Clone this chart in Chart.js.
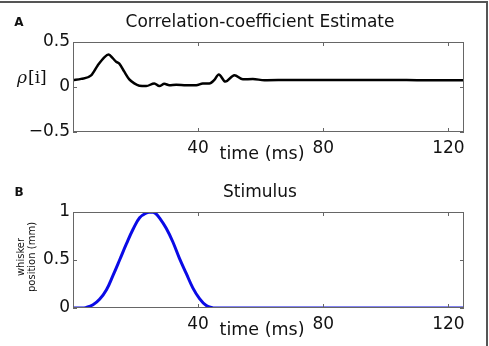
<!DOCTYPE html>
<html lang="en">
<head>
    <meta charset="UTF-8">
    <title>Correlation-coefficient Estimate / Stimulus</title>
    <style>
        body{
            margin: 0;
            width: 489px;
            height: 346px;
            background: #fff;
            overflow: hidden;
            position: relative;
        }
        .frame{
            position: absolute;
            left: -3px;
            top: 1px;
            width: 487px;
            height: 350px;
            border: 2px solid #555;
        }
        .panel{
            position: absolute;
            left: 0;
            width: 489px;
        }
        #panelA{ top: 0; height: 170px; }
        #panelB{ top: 170px; height: 176px; }
    </style>
</head>
<body>
    <div class="frame"></div>
    <div class="panel" id="panelA"><canvas id="chartA" width="489" height="170"></canvas></div>
    <div class="panel" id="panelB"><canvas id="chartB" width="489" height="176"></canvas></div>
    <script src="https://cdn.jsdelivr.net/npm/chart.js@4.4.1/dist/chart.umd.min.js"></script>
    <script>
// panel A: correlation coefficient estimate
const timeA = [0, 2.6, 5.8, 7.9, 10, 11.4, 12.7, 13.8, 14.8, 16.4, 18, 19.6, 21.2, 23.4, 26, 27.6, 29.2, 30.8, 33, 36.2, 39.4, 41.5, 43.6, 45.2, 46.6, 48.7, 51.6, 54.3, 57.5, 61.2, 70, 80, 90, 100, 110, 120, 125];
const rhoA = [0.078, 0.09, 0.13, 0.24, 0.33, 0.36, 0.32, 0.28, 0.26, 0.17, 0.085, 0.04, 0.015, 0.01, 0.04, 0.01, 0.035, 0.02, 0.026, 0.02, 0.02, 0.04, 0.04, 0.08, 0.14, 0.06, 0.13, 0.085, 0.089, 0.075, 0.078, 0.078, 0.077, 0.077, 0.076, 0.075, 0.075];

// panel B: whisker position
const timeB = [0, 2.5, 4.3, 6.4, 8.5, 10.7, 12.8, 14.9, 17.1, 19.2, 21.3, 23.5, 25, 26.4, 27.6, 29.8, 31.9, 34, 36.2, 38.3, 40.4, 42.6, 44.7, 46.5, 125];
const posB = [0, 0, 0.007, 0.033, 0.09, 0.19, 0.34, 0.5, 0.67, 0.82, 0.94, 0.99, 1.0, 0.985, 0.94, 0.83, 0.69, 0.52, 0.36, 0.21, 0.1, 0.025, 0.003, 0, 0];

const xTicks = [40, 80, 120];
const yTicksA = [-0.5, 0, 0.5];
const yTicksB = [0, 0.5, 1];

const FONT = "'DejaVu Sans', sans-serif";

function fmt(v){
    return (v < 0 ? "\u2212" : "") + Math.abs(v);
}

// frame, inward ticks and the texts matplotlib puts around the axes
const deco = {
    id: "deco",
    afterDraw(chart, args, o){
        const c = chart.ctx, a = chart.chartArea;
        const xs = chart.scales.x, ys = chart.scales.y;
        c.save();
        c.strokeStyle = "#666";
        c.lineWidth = 1;
        c.strokeRect(a.left + 0.5, a.top + 0.5, a.right - a.left - 1, a.bottom - a.top - 1);
        c.beginPath();
        xs.ticks.forEach(t => {
            const px = Math.round(xs.getPixelForValue(t.value)) + 0.5;
            c.moveTo(px, a.bottom); c.lineTo(px, a.bottom - 4);
            c.moveTo(px, a.top); c.lineTo(px, a.top + 4);
        });
        ys.ticks.forEach(t => {
            const py = Math.round(ys.getPixelForValue(t.value)) + 0.5;
            c.moveTo(a.left, py); c.lineTo(a.left + 4, py);
            c.moveTo(a.right, py); c.lineTo(a.right - 4, py);
        });
        c.stroke();

        c.fillStyle = "#111";
        c.textAlign = "center";
        c.textBaseline = "middle";
        c.font = "17px " + FONT;
        c.fillText(o.title, o.titleX, 23);
        c.font = "bold 12px " + FONT;
        c.fillText(o.letter, 19, 23);
        c.font = "17.5px " + FONT;
        c.fillText("time (ms)", 262, o.xTitleY);

        if (o.rho){
            c.font = "italic 17px 'DejaVu Serif', serif";
            c.textAlign = "left";
            c.fillText("\u03c1", 17, 79);
            c.font = "17px 'DejaVu Serif', serif";
            c.fillText("[i]", 28, 79);
        } else {
            c.translate(26.5, 87);
            c.rotate(-Math.PI / 2);
            c.font = "10px " + FONT;
            c.fillText("whisker", 0, -5.5);
            c.fillText("position (mm)", 0, 5.5);
        }
        c.restore();
    }
};

function makeChart(id, xs, ys, color, width, smooth, yMin, yMax, yTicks, deco_opts){
    const ctx = document.getElementById(id).getContext("2d");
    return new Chart(ctx, {
        type: "line",
        data: {
            datasets: [{
                data: xs.map((x, i) => ({x: x, y: ys[i]})),
                borderColor: color,
                borderWidth: width,
                pointRadius: 0,
                fill: false,
                cubicInterpolationMode: smooth ? "default" : "monotone",
                tension: 0.4,
            }],
        },
        options: {
            responsive: false,
            animation: false,
            layout: {padding: {top: 42, right: 25, left: 0, bottom: 0}},
            plugins: {
                legend: {display: false},
                tooltip: {enabled: false},
                deco: deco_opts,
            },
            scales: {
                x: {
                    type: "linear",
                    min: 0,
                    max: 125,
                    grid: {display: false, drawTicks: false},
                    border: {display: false},
                    afterBuildTicks: s => { s.ticks = xTicks.map(v => ({value: v})); },
                    afterFit: s => { s.height = 38; },
                    ticks: {
                        font: {family: FONT, size: 17},
                        color: "#111",
                        padding: 6,
                        maxRotation: 0,
                        autoSkip: false,
                    },
                },
                y: {
                    min: yMin,
                    max: yMax,
                    grid: {display: false, drawTicks: false},
                    border: {display: false},
                    afterBuildTicks: s => { s.ticks = yTicks.map(v => ({value: v})); },
                    afterFit: s => { s.width = 73; },
                    ticks: {
                        font: {family: FONT, size: 17},
                        color: "#111",
                        padding: 3,
                        callback: v => fmt(v),
                    },
                },
            },
        },
        plugins: [deco],
    });
}

makeChart("chartA", timeA, rhoA, "#000", 2.5, false, -0.5, 0.5, yTicksA,
    {title: "Correlation-coefficient Estimate", titleX: 260, letter: "A", xTitleY: 154, rho: true});
makeChart("chartB", timeB, posB, "#0a0ae6", 3, true, 0, 1, yTicksB,
    {title: "Stimulus", titleX: 260, letter: "B", xTitleY: 160, rho: false});
    </script>
</body>
</html>
